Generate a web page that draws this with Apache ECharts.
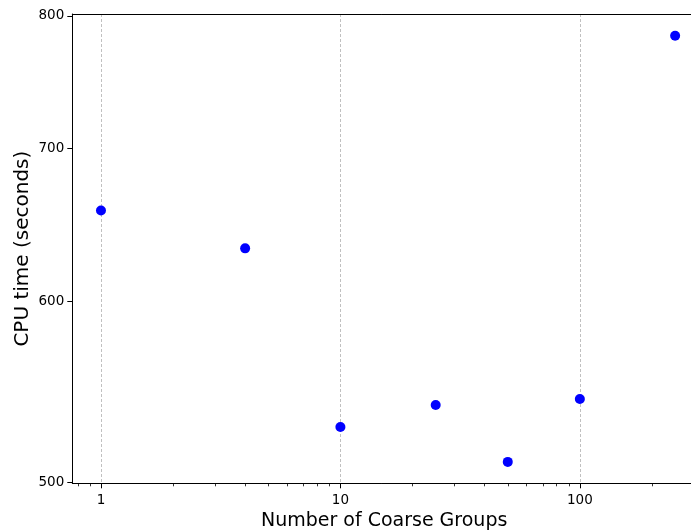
<!DOCTYPE html>
<html>
<head>
<meta charset="utf-8">
<script src="https://cdn.jsdelivr.net/npm/echarts@6/dist/echarts.min.js"></script>
<style>
  html, body { margin: 0; padding: 0; background: #fff; }
  #chart { width: 691px; height: 531px; }
</style>
</head>
<body>
<div id="chart"></div>
<script>
// CPU time against the number of coarse groups (log-log)
const groups = [1, 4, 10, 25, 50, 100, 250];
const cpuSeconds = [657.5, 632.9, 528.6, 540.4, 510.3, 543.7, 784.2];

const xMajorTicks = [1, 10, 100];
const xMinorTicks = [0.8, 0.9, 2, 3, 4, 5, 6, 7, 8, 9, 20, 30, 40, 50, 60, 70, 80, 90, 200, 300];
const yTicks = [500, 600, 700, 800];

const X_MIN = 0.759, X_MAX = 330;
const Y_MIN = 499.4, Y_MAX = 801.6;

const FONT = 'DejaVu Sans';
const gridBox = { left: 72.3, top: 14, right: -13, bottom: 47.7, containLabel: false, outerBoundsMode: 'none' };

const chart = echarts.init(document.getElementById('chart'), null, { renderer: 'canvas' });

chart.setOption({
  animation: false,
  backgroundColor: '#ffffff',
  grid: [
    Object.assign({}, gridBox),
    Object.assign({}, gridBox)
  ],
  xAxis: [
    {
      type: 'log', gridIndex: 0, position: 'bottom',
      min: X_MIN, max: X_MAX,
      axisLine: { show: true, onZero: false, lineStyle: { color: '#000', width: 1 } },
      axisTick: { show: true, customValues: xMajorTicks, length: 5, lineStyle: { color: '#000', width: 1 } },
      axisLabel: {
        show: true, customValues: xMajorTicks, color: '#000', fontFamily: FONT, fontSize: 13.5, margin: 10,
        formatter: v => String(v)
      },
      splitLine: { show: true, lineStyle: { color: '#b0b0b0', type: [3, 2], width: 0.8 } },
      minorTick: { show: false },
      name: 'Number of Coarse Groups', nameLocation: 'middle', nameGap: 28, nameMoveOverlap: false,
      nameTextStyle: { color: '#000', fontFamily: FONT, fontSize: 19, padding: [0, 8, 0, 0] }
    },
    {
      type: 'log', gridIndex: 0, position: 'top',
      min: X_MIN, max: X_MAX,
      axisLine: { show: true, onZero: false, lineStyle: { color: '#000', width: 1 } },
      axisTick: { show: false },
      axisLabel: { show: false },
      splitLine: { show: false }
    },
    {
      type: 'log', gridIndex: 1, position: 'bottom',
      min: X_MIN, max: X_MAX,
      axisLine: { show: false, onZero: false },
      axisTick: { show: true, customValues: xMinorTicks, length: 3, lineStyle: { color: '#000', width: 0.8 } },
      axisLabel: { show: false },
      splitLine: { show: false }
    }
  ],
  yAxis: [
    {
      type: 'log', gridIndex: 0, position: 'left',
      min: Y_MIN, max: Y_MAX,
      axisLine: { show: true, onZero: false, lineStyle: { color: '#000', width: 1 } },
      axisTick: { show: true, customValues: yTicks, length: 5, lineStyle: { color: '#000', width: 1 } },
      axisLabel: {
        show: true, customValues: yTicks, color: '#000', fontFamily: FONT, fontSize: 13.5, margin: 8,
        formatter: v => String(v)
      },
      splitLine: { show: false },
      name: 'CPU time (seconds)', nameLocation: 'middle', nameGap: 40, nameMoveOverlap: false,
      nameTextStyle: { color: '#000', fontFamily: FONT, fontSize: 20 }
    },
    {
      type: 'log', gridIndex: 1, min: Y_MIN, max: Y_MAX, show: false
    }
  ],
  series: [
    {
      type: 'scatter', xAxisIndex: 0, yAxisIndex: 0,
      symbol: 'circle', symbolSize: 10,
      itemStyle: { color: '#0000ff', opacity: 1 },
      data: groups.map((g, i) => [g, cpuSeconds[i]])
    }
  ]
});
</script>
</body>
</html>
